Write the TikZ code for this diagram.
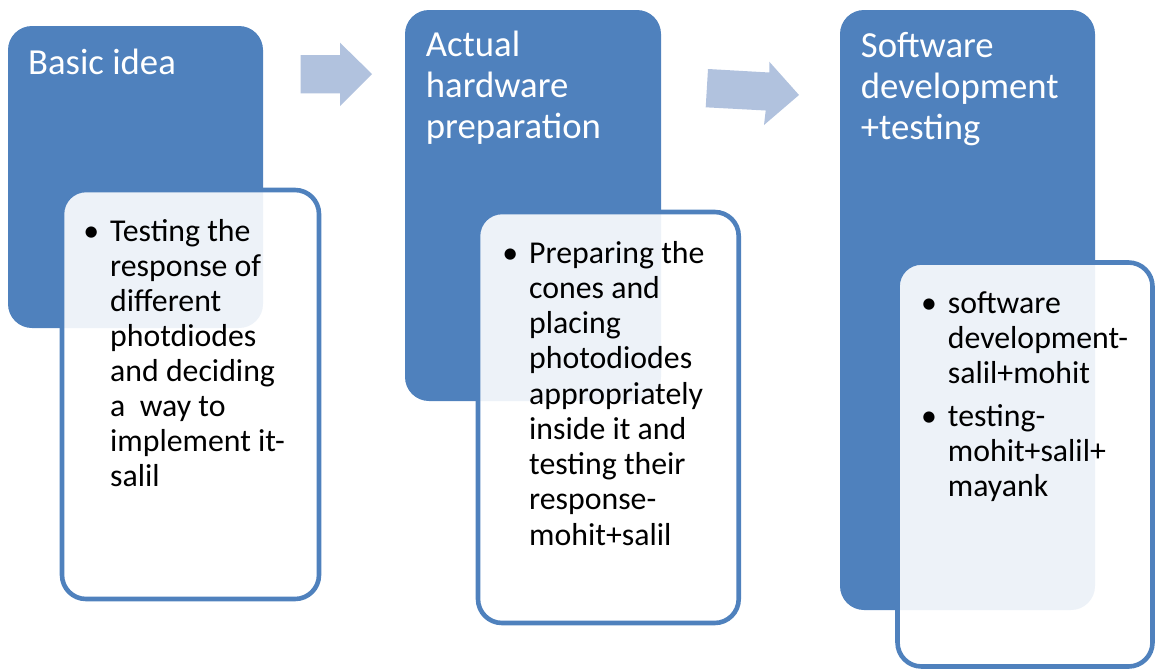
\documentclass[tikz,border=0pt]{standalone}
\usepackage{fontspec}
\setmainfont{Carlito}
\definecolor{stageblue}{HTML}{4F81BD}
\definecolor{arrowblue}{HTML}{B1C2DE}
\begin{document}
\begin{tikzpicture}[x=1pt,y=-1pt,
  stagebox/.style={fill=stageblue, rounded corners=24pt},
  detailbox/.style={draw=stageblue, line width=4.6pt, fill=white, fill opacity=0.9, rounded corners=24pt},
  flowarrow/.style={fill=arrowblue},
  title/.style={anchor=base west, inner sep=0pt, text=white, font=\fontsize{36.7}{41}\selectfont},
  detail/.style={anchor=base west, inner sep=0pt, text=black, font=\fontsize{31.8}{35.2}\selectfont}]
\newcommand{\bul}{\leavevmode\llap{•\hspace{11pt}}}
\useasboundingbox (0,0) rectangle (1155,670);
\begin{scope}
\clip (0,0) rectangle (1155,670);

% stage 1
\fill[stagebox] (8,26) rectangle (263,328);
\node[title] (t1) at (28,74.3) {Basic idea};
\draw[detailbox] (62,190) rectangle (319,599);
\node[detail] (d1) at (110,241.7) {\parbox[t]{220pt}{\baselineskip=35pt
  \bul Testing the\\response of\\different\\photdiodes\\and deciding\\a\ \ way to\\implement it-\\salil}};

% arrows between stages
\fill[flowarrow] (300.7,55) -- (340,55) -- (340,42.7) -- (372,74) -- (340,106) -- (340,93.3) -- (300.7,93.3) -- cycle;
\fill[flowarrow] (708,69) -- (769.3,72.5) -- (769.3,61.7) -- (799,95) -- (764,125) -- (765.7,110.5) -- (705.7,107.3) -- cycle;

% stage 2
\fill[stagebox] (405,10) rectangle (661,401);
\node[title] (t2) at (425.7,56.7) {\parbox[t]{240pt}{\baselineskip=41pt Actual\\hardware\\preparation}};
\draw[detailbox] (478,212) rectangle (738.7,623);
\node[detail] (d2) at (529,263) {\parbox[t]{220pt}{\baselineskip=35.25pt
  \bul Preparing the\\cones and\\placing\\photodiodes\\appropriately\\inside it and\\testing their\\response-\\mohit+salil}};

% stage 3
\fill[stagebox] (840,10) rectangle (1095,610);
\node[title] (t3) at (860.7,57.3) {\parbox[t]{240pt}{\baselineskip=41pt Software\\development\\+testing}};
\draw[detailbox] (897.5,262.5) rectangle (1152.5,666.5);
\node[detail] (d3a) at (947.7,313) {\parbox[t]{220pt}{\baselineskip=35pt
  \bul software\\development-\\salil+mohit}};
\node[detail] (d3b) at (947.7,426.7) {\parbox[t]{220pt}{\baselineskip=35pt
  \bul testing-\\mohit+salil+\\mayank}};
\end{scope}
\end{tikzpicture}
\end{document}
